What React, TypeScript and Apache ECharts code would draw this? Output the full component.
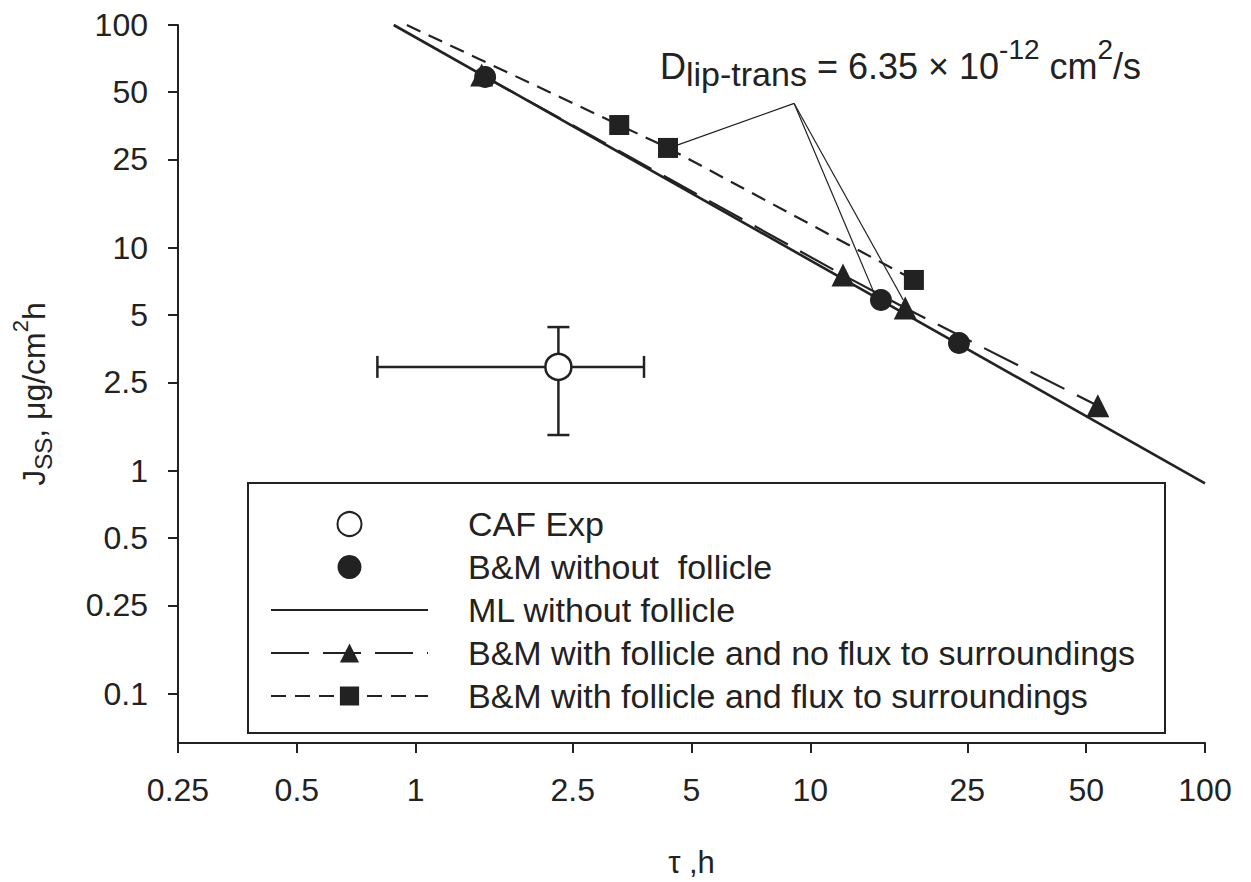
import React, { useEffect, useRef } from "react";
import * as echarts from "echarts";

// ---- data ----
const xTicks = [0.25, 0.5, 1, 2.5, 5, 10, 25, 50, 100];
const yTicks = [0.1, 0.25, 0.5, 1, 2.5, 5, 10, 25, 50, 100];

const seriesNames = [
  "CAF Exp",
  "B&M without  follicle",
  "ML without follicle",
  "B&M with follicle and no flux to surroundings",
  "B&M with follicle and flux to surroundings",
];

const cafExp = [[2.3, 2.93]];
const cafErrX = [[0.8, 3.79]];
const cafErrY = [[1.45, 4.42]];
const bmNoFollicle = [
  [1.5, 58.5],
  [15.1, 5.85],
  [23.8, 3.75],
];
const mlNoFollicle = [
  [0.88, 100],
  [100, 0.88],
];
const bmNoFlux = [
  [1.47, 59.7],
  [12.1, 7.57],
  [17.4, 5.38],
  [53.5, 1.96],
];
const bmFluxStart = [0.95, 100];
const bmFlux = [
  [3.28, 35.6],
  [4.36, 28.1],
  [18.3, 7.19],
];
const annotationApex = [9.1, 44.5];
const annotationTargets = [
  [4.62, 29.0],
  [14.4, 6.49],
  [17.2, 5.85],
];

const FONT = "'Liberation Sans', Arial, Helvetica, sans-serif";
const INK = "#222";

const fmt = (v: number) => String(+Number(v).toPrecision(3));

export default function App() {
  const ref = useRef<HTMLDivElement>(null);

  useEffect(() => {
    if (!ref.current) return;
    const chart = echarts.init(ref.current, null, { renderer: "svg" });

    const errData = cafExp.map((p, i) => [
      p[0],
      p[1],
      cafErrX[i][0],
      cafErrX[i][1],
      cafErrY[i][0],
      cafErrY[i][1],
    ]);

    const leaderSeries = annotationTargets.map((t, i) => ({
      type: "line",
      name: "leader" + i,
      data: [annotationApex, t],
      symbol: "none",
      silent: true,
      lineStyle: { color: INK, width: 1.2 },
      z: 1,
    }));

    const legendData = seriesNames.map((n, i) =>
      i === 2
        ? { name: n, itemStyle: { color: "rgba(0,0,0,0)", borderWidth: 0, opacity: 0 } }
        : { name: n }
    );

    const option: any = {
      animation: false,
      backgroundColor: "#fff",
      textStyle: { fontFamily: FONT, color: INK },
      grid: {
        left: 178,
        right: 46,
        top: 25,
        bottom: 139,
        containLabel: false,
        outerBoundsMode: "none",
      },
      xAxis: {
        type: "log",
        logBase: 10,
        min: 0.25,
        max: 100,
        name: "τ ,h",
        nameLocation: "middle",
        nameGap: 104,
        nameTextStyle: { fontSize: 31, color: INK, fontFamily: FONT },
        axisLine: { show: true, onZero: false, lineStyle: { color: INK, width: 2 } },
        axisTick: {
          show: true,
          inside: false,
          length: 10,
          customValues: xTicks,
          lineStyle: { color: INK, width: 2 },
        },
        minorTick: { show: false },
        axisLabel: {
          customValues: xTicks,
          fontSize: 32,
          color: INK,
          fontFamily: FONT,
          margin: 31,
          formatter: fmt,
          showMinLabel: true,
          showMaxLabel: true,
          hideOverlap: false,
        },
        splitLine: { show: false },
      },
      yAxis: {
        type: "log",
        logBase: 10,
        min: 0.0603,
        max: 100,
        axisLine: { show: true, onZero: false, lineStyle: { color: INK, width: 2 } },
        axisTick: {
          show: true,
          inside: false,
          length: 10,
          customValues: yTicks,
          lineStyle: { color: INK, width: 2 },
        },
        minorTick: { show: false },
        axisLabel: {
          customValues: yTicks,
          fontSize: 32,
          color: INK,
          fontFamily: FONT,
          margin: 30,
          formatter: fmt,
          showMinLabel: true,
          showMaxLabel: true,
          hideOverlap: false,
        },
        splitLine: { show: false },
      },
      legend: {
        show: true,
        data: legendData,
        orient: "vertical",
        left: 270,
        top: 507,
        padding: 0,
        itemWidth: 157,
        itemHeight: 24,
        itemGap: 9,
        selectedMode: false,
        textStyle: {
          fontSize: 34,
          color: INK,
          fontFamily: FONT,
          padding: [0, 0, 0, 35],
        },
      },
      graphic: [
        {
          type: "rect",
          shape: { x: 248, y: 483, width: 917, height: 250 },
          style: { fill: "none", stroke: INK, lineWidth: 2 },
          silent: true,
          z: 0,
        },
        {
          type: "text",
          x: 660,
          y: 26,
          silent: true,
          style: {
            text: "{a|D}{b|lip-trans}{a| = 6.35 × 10}{c|-12}{a| cm}{c|2}{a|/s}",
            align: "left",
            verticalAlign: "top",
            fill: INK,
            font: `36px ${FONT}`,
            rich: {
              a: { fontSize: 36, fontFamily: FONT, lineHeight: 80, verticalAlign: "middle", fill: INK },
              b: { fontSize: 34, fontFamily: FONT, lineHeight: 65, height: 65, verticalAlign: "bottom", fill: INK },
              c: { fontSize: 28, fontFamily: FONT, lineHeight: 46, height: 46, verticalAlign: "top", fill: INK },
            },
          },
        },
        {
          type: "text",
          x: 34,
          y: 394,
          rotation: Math.PI / 2,
          silent: true,
          style: {
            text: "{a|J}{b|SS}{a|, μg/cm}{c|2}{a|h}",
            align: "center",
            verticalAlign: "middle",
            fill: INK,
            font: `32px ${FONT}`,
            rich: {
              a: { fontSize: 32, fontFamily: FONT, lineHeight: 60, verticalAlign: "middle", fill: INK },
              b: { fontSize: 24, fontFamily: FONT, lineHeight: 42, height: 42, verticalAlign: "bottom", fill: INK },
              c: { fontSize: 22, fontFamily: FONT, lineHeight: 33, height: 33, verticalAlign: "top", fill: INK },
            },
          },
        },
      ],
      series: [
        ...leaderSeries,
        {
          type: "line",
          name: seriesNames[2],
          data: mlNoFollicle,
          symbol: "none",
          lineStyle: { color: INK, width: 2.6, type: "solid" },
          itemStyle: { color: INK },
          z: 2,
        },
        {
          type: "line",
          name: seriesNames[3],
          data: bmNoFlux,
          symbol: "triangle",
          symbolSize: 23,
          lineStyle: { color: INK, width: 2.2, type: [38, 14] },
          itemStyle: { color: INK },
          z: 3,
        },
        {
          type: "line",
          name: seriesNames[4],
          data: [{ value: bmFluxStart, symbol: "none" }, ...bmFlux],
          symbol: "rect",
          symbolSize: 20,
          lineStyle: { color: INK, width: 2.2, type: [15, 9] },
          itemStyle: { color: INK },
          z: 3,
        },
        {
          type: "custom",
          name: "errorbars",
          silent: true,
          data: errData,
          encode: { x: [0, 2, 3], y: [1, 4, 5] },
          z: 4,
          renderItem: (params: any, api: any) => {
            const x = api.value(0);
            const y = api.value(1);
            const pl = api.coord([api.value(2), y]);
            const ph = api.coord([api.value(3), y]);
            const pb = api.coord([x, api.value(4)]);
            const pt = api.coord([x, api.value(5)]);
            const cap = 11;
            const st = { stroke: INK, lineWidth: 2.5, fill: "none" };
            const ln = (x1: number, y1: number, x2: number, y2: number) => ({
              type: "line",
              shape: { x1, y1, x2, y2 },
              style: st,
            });
            return {
              type: "group",
              children: [
                ln(pl[0], pl[1], ph[0], ph[1]),
                ln(pl[0], pl[1] - cap, pl[0], pl[1] + cap),
                ln(ph[0], ph[1] - cap, ph[0], ph[1] + cap),
                ln(pt[0], pt[1], pb[0], pb[1]),
                ln(pt[0] - cap, pt[1], pt[0] + cap, pt[1]),
                ln(pb[0] - cap, pb[1], pb[0] + cap, pb[1]),
              ],
            };
          },
        },
        {
          type: "scatter",
          name: seriesNames[1],
          data: bmNoFollicle,
          symbol: "circle",
          symbolSize: 22,
          itemStyle: { color: INK, opacity: 1 },
          z: 5,
        },
        {
          type: "scatter",
          name: seriesNames[0],
          data: cafExp,
          symbol: "circle",
          symbolSize: 26,
          itemStyle: { color: "#fff", borderColor: INK, borderWidth: 2.5, opacity: 1 },
          z: 6,
        },
      ],
    };

    chart.setOption(option);
    return () => chart.dispose();
  }, []);

  return (
    <div
      ref={ref}
      style={{ position: "fixed", left: 0, top: 0, width: 1251, height: 882, background: "#fff" }}
    />
  );
}
